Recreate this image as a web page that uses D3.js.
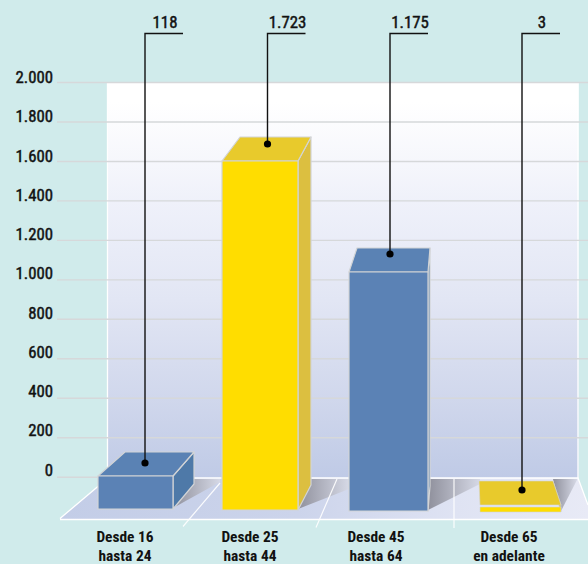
<!DOCTYPE html>
<html lang="es">
<head>
<meta charset="utf-8">
<style>
html,body{margin:0;padding:0;background:#d0ebeb;overflow:hidden}
svg{display:block}
text{font-family:"Liberation Sans Narrow","Roboto Condensed",Roboto,sans-serif;fill:#111}
.num{font-size:16.8px;font-weight:400;stroke:#111;stroke-width:.45px}
.cat{font-size:15.4px;font-weight:700}
</style>
<script src="https://cdn.jsdelivr.net/npm/d3@7/dist/d3.min.js"></script>
</head>
<body>
<svg id="chart" width="588" height="564"></svg>
<script>
const categories = ["Desde 16|hasta 24", "Desde 25|hasta 44", "Desde 45|hasta 64", "Desde 65|en adelante"];
const values = [118, 1723, 1175, 3];
const barFill = ["blue", "yellow", "blue", "yellow"];
const tickValues = [0, 200, 400, 600, 800, 1000, 1200, 1400, 1600, 1800, 2000];

const palette = {
  blue: {front: "#5b82b5", top: "#5a82b4", side: "#4e79a8"},
  yellow: {front: "#ffdd00", top: "#e8ca2c", side: "#dcbf40"}
};
const fmt = d3.formatLocale({decimal: ",", thousands: ".", grouping: [3], currency: ["", ""]}).format(",d");

const W = 588, H = 564;
const svg = d3.select("#chart");

// Axis scale of the printed grid
const y = d3.scaleLinear().domain([0, 2000]).range([476.7, 82]);
const labelY = d3.scaleLinear().domain([0, 2000]).range([469, 76.7]);
// The source is a hand-drawn perspective graphic: its bars do not sit on the grid scale,
// so the bar tops use their own scale, anchored at each drawn value.
const topY = d3.scaleLinear().domain([3, 118, 1175, 1723]).range([505, 476, 272, 161]);
const depthY = 24;
const baseY = d3.scaleOrdinal(categories, [509, 510, 511, 512]);
const frontL = d3.scaleOrdinal(categories, [98, 222, 349, 480]);
const frontR = d3.scaleOrdinal(categories, [173, 298, 428, 561]);
const backL = d3.scaleOrdinal(categories, [125, 240, 357, 479]);
const backR = d3.scaleOrdinal(categories, [194, 311, 430, 553]);
const leaderX = d3.scaleOrdinal(categories, [145, 267.5, 390, 522]);
const dotLift = d3.scaleOrdinal(categories, [13, 17, 18, 15]);
const labelX = d3.scaleOrdinal(categories, [125, 250, 376, 509]);
const shadowTip = d3.scaleOrdinal(categories, [220, 349, 480, 577]);
const shadowTipY = d3.scaleOrdinal(categories, [482, 489, 484, 480]);

const rows = categories.map((c, i) => ({c, v: values[i], fill: palette[barFill[i]]}));

const defs = svg.append("defs");
const wallG = defs.append("linearGradient").attr("id", "wall").attr("x1", 0).attr("x2", 0).attr("y1", 0).attr("y2", 1);
[[0.05, "#ffffff"], [0.2, "#f6f7fc"], [0.3, "#eff1fa"], [0.55, "#e2e6f4"], [0.8, "#d0d7ec"], [1, "#bfcae6"]]
  .forEach(([o, c]) => wallG.append("stop").attr("offset", o).attr("stop-color", c));
const floorG = defs.append("linearGradient").attr("id", "floor");
[[0, "#c3cde7"], [0.45, "#ccd4eb"], [0.75, "#dfe3f3"], [1, "#e8eaf6"]]
  .forEach(([o, c]) => floorG.append("stop").attr("offset", o).attr("stop-color", c));
const shadowG = defs.append("linearGradient").attr("id", "shadow");
[[0, "#8f909c"], [1, "#d6d9e6"]]
  .forEach(([o, c]) => shadowG.append("stop").attr("offset", o).attr("stop-color", c));

const pts = a => a.map(p => p.join(",")).join(" ");

// Background and back wall
svg.append("rect").attr("width", W).attr("height", H).attr("fill", "#d0ebeb");
svg.append("rect").attr("x", 107).attr("y", y(2000)).attr("width", 471.5).attr("height", y(0) - y(2000) + 1.5)
  .attr("fill", "url(#wall)");
svg.append("path").attr("d", `M107.5,${y(2000)}V478 M578,${y(2000)}V478`)
  .attr("fill", "none").attr("stroke", "#fff").attr("stroke-width", 1.3);

// Gridlines and axis labels
const axis = svg.append("g").attr("transform", "translate(57,0)")
  .call(d3.axisLeft(y).tickValues(tickValues).tickFormat(fmt).tickSizeInner(-(W - 57)).tickSizeOuter(0).tickPadding(4));
axis.attr("font-size", null).attr("font-family", null);
axis.select(".domain").remove();
axis.selectAll(".tick line").attr("stroke", "#d6d8da").attr("stroke-width", 1.4);
axis.selectAll(".tick text")
  .attr("class", "num").attr("fill", "#111")
  .attr("dy", null).attr("dominant-baseline", "central")
  .attr("y", d => labelY(d) - y(d));
axis.selectAll(".tick").filter(d => d === 0).select("line").attr("x2", 51);

// Floor
svg.append("polygon")
  .attr("points", pts([[60, 518.5], [108, 478], [578, 478], [588, 505], [588, 519.5], [60, 519.5]]))
  .attr("fill", "url(#floor)");
svg.append("path").attr("d", "M60,518.5L108,478H578L588,505 M60,519.5H588")
  .attr("fill", "none").attr("stroke", "#fff").attr("stroke-width", 1.3);

// Cast shadows
svg.append("g").selectAll("polygon").data(rows).join("polygon")
  .attr("points", d => pts([
    [frontR(d.c), baseY(d.c) - 1], [shadowTip(d.c), shadowTipY(d.c)],
    [shadowTip(d.c), 479], [backR(d.c), 479]
  ]))
  .attr("fill", "url(#shadow)");

// Floor dividers
svg.append("path").attr("d", "M183,526.5L220,483 M316,527.5L337,479 M454,528V479")
  .attr("fill", "none").attr("stroke", "#fff").attr("stroke-width", 1.2).attr("stroke-opacity", 0.9);

// Bars
const bars = svg.append("g").selectAll("g").data(rows).join("g")
  .attr("stroke", "#d2d4d6").attr("stroke-linejoin", "round")
  .attr("stroke-width", d => d.v < 10 ? 0.6 : 1.2);
bars.append("polygon").attr("class", "side")
  .attr("points", d => {
    const b = baseY(d.c), t = topY(d.v);
    return pts([[frontR(d.c), t], [backR(d.c), t - depthY],
      [backR(d.c), Math.max(t - depthY, b - 25)], [frontR(d.c), b]]);
  })
  .attr("fill", d => d.fill.side);
bars.append("polygon").attr("class", "top")
  .attr("points", d => {
    const t = topY(d.v);
    return pts([[frontL(d.c), t], [backL(d.c), t - depthY], [backR(d.c), t - depthY], [frontR(d.c), t]]);
  })
  .attr("fill", d => d.fill.top);
bars.append("rect").attr("class", "front")
  .attr("x", d => frontL(d.c))
  .attr("y", d => topY(d.v) + (d.v < 10 ? 2 : 0))
  .attr("width", d => frontR(d.c) - frontL(d.c))
  .attr("height", d => baseY(d.c) - topY(d.v) - (d.v < 10 ? 2 : 0))
  .attr("fill", d => d.fill.front);

// Leaders and dots
const leaderTop = 33.5, leaderLen = 38;
const lead = svg.append("g").selectAll("g").data(rows).join("g");
lead.append("path")
  .attr("d", d => `M${leaderX(d.c) + leaderLen},${leaderTop}H${leaderX(d.c)}V${topY(d.v) - dotLift(d.c)}`)
  .attr("fill", "none").attr("stroke", "#111").attr("stroke-width", 1.4);
lead.append("circle")
  .attr("cx", d => leaderX(d.c)).attr("cy", d => topY(d.v) - dotLift(d.c)).attr("r", 3.6).attr("fill", "#000");
lead.append("text")
  .attr("class", "num")
  .attr("x", d => leaderX(d.c) + leaderLen / 2 + 1).attr("y", 27.5)
  .attr("text-anchor", "middle")
  .text(d => fmt(d.v));

// Category labels
const catLabels = svg.append("g").selectAll("text").data(rows).join("text")
  .attr("class", "cat").attr("text-anchor", "middle");
catLabels.selectAll("tspan").data(d => d.c.split("|").map(t => ({t, x: labelX(d.c)}))).join("tspan")
  .attr("x", d => d.x).attr("y", (d, i) => 541.5 + i * 19.5).text(d => d.t);
</script>
</body>
</html>
